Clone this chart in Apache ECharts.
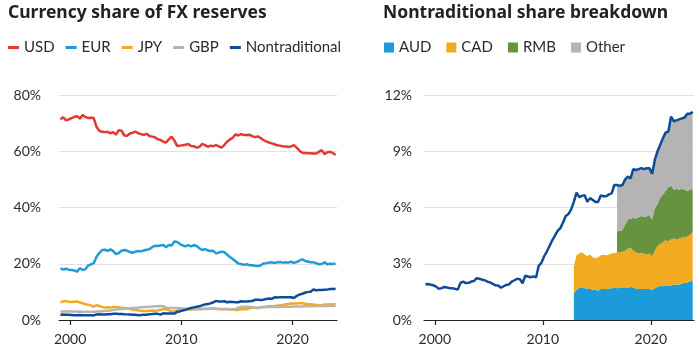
<!DOCTYPE html>
<html>
<head>
<meta charset="utf-8">
<script src="https://cdn.jsdelivr.net/npm/echarts@6/dist/echarts.min.js"></script>
<style>
  html, body { margin: 0; padding: 0; background: #fff; }
  #main { width: 700px; height: 350px; }
</style>
</head>
<body>
<div id="main"></div>
<script>
// quarterly shares, 1999Q1 .. 2023Q4 (percent)
var firstYear = 1999;
var usd = [
    71.4, 72.1, 71.0, 71.3,  71.8, 72.2, 72.5, 71.6,  72.9, 72.2, 71.8, 71.9,
    71.8, 68.7, 67.3, 66.9,  66.8, 66.9, 66.4, 66.8,  65.9, 67.5, 67.3, 65.6,
    65.5, 66.3, 66.6, 67.0,  66.4, 66.1, 65.8, 66.2,  65.4, 65.2, 65.0, 64.3,
    64.0, 63.4, 63.1, 64.2,  65.2, 63.8, 61.9, 62.0,  62.1, 62.3, 62.6, 61.9,
    61.8, 61.3, 61.5, 62.6,  62.2, 61.6, 62.0, 61.8,  62.2, 61.7, 61.3, 62.3,
    63.4, 64.2, 64.8, 66.0,  65.6, 66.1, 65.8, 65.8,  65.9, 65.4, 65.0, 65.3,
    64.7, 64.0, 63.5, 63.1,  62.8, 62.5, 62.1, 62.0,  61.8, 61.7, 61.6, 61.7,
    62.2, 61.3, 60.2, 59.5,  59.4, 59.3, 59.3, 59.2,  59.2, 59.8, 60.4, 59.0,
    59.6, 59.8, 59.4, 58.7
];
var eur = [
    18.4, 17.9, 18.2, 17.9,  17.8, 17.6, 17.2, 18.4,  17.8, 18.0, 19.4, 19.8,
    20.2, 22.5, 23.8, 24.9,  25.0, 24.6, 25.1, 24.5,  23.4, 23.8, 24.6, 24.9,
    24.6, 24.2, 23.9, 24.3,  24.5, 24.4, 24.7, 25.0,  25.2, 25.9, 26.4, 26.3,
    26.5, 26.7, 25.8, 26.7,  26.5, 27.9, 27.7, 27.0,  26.5, 26.2, 26.6, 26.2,
    26.6, 26.3, 25.5, 24.9,  25.2, 24.8, 24.5, 24.6,  23.7, 24.0, 24.3, 24.1,
    23.2, 22.4, 21.7, 20.9,  20.1, 19.9, 19.6, 19.8,  19.5, 19.5, 19.3, 19.2,
    19.4, 20.1, 20.2, 20.4,  20.5, 20.3, 20.5, 20.6,  20.4, 20.5, 20.4, 20.7,
    20.3, 20.6, 21.1, 21.6,  21.0, 20.8, 20.5, 20.5,  20.2, 19.8, 19.9, 20.5,
    19.8, 20.0, 19.9, 20.1
];
var jpy = [
    6.3, 6.6, 6.8, 6.5,  6.4, 6.5, 6.6, 6.2,  6.0, 5.6, 5.4, 5.2,
    4.7, 5.3, 5.0, 4.6,  4.4, 4.5, 4.4, 4.6,  4.6, 4.5, 4.3, 4.3,
    4.1, 4.0, 3.6, 3.6,  3.4, 3.3, 3.2, 3.2,  3.3, 3.4, 3.3, 3.4,
    3.6, 3.8, 3.9, 3.5,  3.0, 3.1, 3.4, 3.6,  3.7, 3.8, 3.8, 3.7,
    3.8, 3.8, 3.9, 3.9,  4.0, 4.1, 4.1, 4.1,  4.0, 3.9, 3.8, 3.8,
    3.9, 3.7, 3.7, 3.6,  3.6, 3.8, 3.9, 3.8,  4.2, 4.4, 4.4, 4.2,
    4.5, 4.6, 4.7, 4.9,  4.9, 5.0, 5.2, 5.2,  5.3, 5.6, 5.7, 5.9,
    5.9, 5.9, 6.0, 6.0,  5.8, 5.6, 5.6, 5.5,  5.3, 5.3, 5.2, 5.5,
    5.5, 5.5, 5.6, 5.7
];
var gbp = [
    3.0, 3.0, 3.1, 3.0,  3.0, 3.0, 2.9, 3.0,  2.9, 2.9, 2.9, 2.9,
    2.9, 3.0, 3.0, 3.1,  3.2, 3.3, 3.4, 3.6,  3.7, 3.8, 3.9, 4.0,
    4.1, 4.2, 4.3, 4.3,  4.4, 4.5, 4.6, 4.6,  4.7, 4.8, 4.9, 4.9,
    5.0, 4.9, 4.4, 4.3,  4.3, 4.3, 4.3, 4.2,  4.1, 4.0, 4.0, 4.0,
    3.9, 3.9, 3.9, 3.9,  3.9, 3.9, 4.0, 4.0,  3.9, 3.9, 3.9, 3.9,
    3.9, 3.8, 3.8, 3.8,  4.4, 4.6, 4.7, 4.7,  4.6, 4.5, 4.4, 4.4,
    4.5, 4.5, 4.6, 4.6,  4.6, 4.6, 4.6, 4.6,  4.7, 4.7, 4.7, 4.7,
    4.8, 4.8, 4.8, 4.8,  4.9, 4.9, 4.9, 4.9,  5.0, 5.0, 5.0, 5.0,
    5.0, 5.1, 5.1, 5.1
];
var nontrad = [
    1.91, 1.92, 1.88, 1.85,  1.78, 1.66, 1.70, 1.76,  1.73, 1.70, 1.70, 1.66,
    1.62, 1.98, 2.05, 1.97,  1.98, 2.05, 2.08, 2.23,  2.20, 2.15, 2.12, 2.05,
    2.00, 1.93, 1.85, 1.84,  1.72, 1.80, 1.87, 1.90,  2.05, 2.12, 2.20, 2.18,
    1.96, 2.36, 2.32, 2.28,  2.33, 2.27, 2.90, 3.05,  3.40, 3.65, 3.95, 4.25,
    4.50, 4.75, 4.90, 5.20,  5.55, 5.65, 5.90, 6.30,  6.80, 6.55, 6.62, 6.65,
    6.30, 6.50, 6.40, 6.30,  6.30, 6.65, 6.60, 6.60,  6.70, 6.75, 7.20, 7.20,
    7.15, 7.20, 7.50, 7.65,  7.55, 8.05, 8.00, 8.05,  8.10, 8.05, 8.10, 8.10,
    7.80, 8.55, 9.00, 9.35,  9.70, 10.00, 10.05, 10.85,  10.60, 10.65, 10.70, 10.75,
    10.80, 11.00, 11.00, 11.10
];

// breakdown, AUD/CAD from 2012Q4, RMB/Other from 2016Q4
var audStart = 55;
var aud = [
    1.43,
    1.60, 1.72, 1.75, 1.70,  1.68, 1.65, 1.62, 1.60,  1.58, 1.65, 1.66, 1.66,
    1.68, 1.70, 1.72, 1.70,  1.72, 1.74, 1.75, 1.74,  1.76, 1.73, 1.68, 1.65,
    1.66, 1.65, 1.66, 1.65,  1.60, 1.70, 1.78, 1.82,  1.80, 1.84, 1.82, 1.86,
    1.88, 1.90, 1.88, 1.95,  1.98, 2.00, 2.05, 2.12
];
var cad = [
    1.43,
    1.85, 1.83, 1.87, 1.80,  1.72, 1.85, 1.73, 1.70,  1.77, 1.80, 1.82, 1.79,
    1.82, 1.85, 1.86, 1.90,  1.88, 1.91, 1.95, 2.06,  2.09, 1.97, 1.92, 1.90,
    1.92, 1.90, 1.84, 1.90,  1.80, 2.00, 2.17, 2.23,  2.35, 2.41, 2.38, 2.44,
    2.47, 2.40, 2.47, 2.45,  2.42, 2.45, 2.50, 2.58
];
var rmbStart = 71;
var rmb = [
    1.13,
    1.15, 1.15, 1.40, 1.56,  1.55, 1.75, 1.80, 1.95,  1.97, 1.95, 2.04, 2.05,
    1.96, 2.28, 2.23, 2.50,  2.55, 2.65, 2.88, 2.87,  2.60, 2.70, 2.60, 2.60,
    2.55, 2.45, 2.40, 2.30
];
var other = [
    2.47,
    2.40, 2.40, 2.40, 2.29,  2.15, 2.60, 2.60, 2.55,  2.55, 2.55, 2.56, 2.50,
    2.44, 2.57, 2.82, 2.80,  3.00, 3.10, 2.97, 3.68,  3.65, 3.65, 3.75, 3.75,
    3.85, 4.10, 4.05, 4.10
];

var yearTicks = [2000, 2010, 2020];

// middle of quarter i, counted from 1999Q1
function qx(i) {
    return firstYear + i / 4 + 0.125;
}
function pairs(arr) {
    return arr.map(function (v, i) { return [qx(i), v]; });
}
// stacked bands: [share, year] so the share column is the one echarts stacks,
// padded from audStart so every band lines up by index
function bandRows(arr, start) {
    var out = [];
    for (var i = audStart; i < start; i++) out.push([null, qx(i)]);
    for (var j = 0; j < arr.length; j++) out.push([arr[j], qx(start + j)]);
    return out;
}

var font = 'Lato, "Noto Sans", sans-serif';
var titleFont = '"Noto Sans", Lato, sans-serif';
var textColor = '#2b2b2b';

function xAxis(idx) {
    return {
        type: 'value',
        gridIndex: idx,
        min: 1999,
        max: 2024,
        splitLine: { show: false },
        axisLine: { lineStyle: { color: '#222', width: 1.2 } },
        axisTick: { show: true, customValues: yearTicks, length: 5, lineStyle: { color: '#222', width: 1.2 } },
        axisLabel: {
            customValues: yearTicks, margin: 12,
            color: textColor, fontFamily: font, fontSize: 14,
            formatter: function (v) { return String(v); }
        }
    };
}
function yAxis(idx, max, step, margin) {
    return {
        type: 'value',
        gridIndex: idx,
        min: 0,
        max: max,
        interval: step,
        axisLine: { show: false },
        axisTick: { show: false },
        splitLine: { lineStyle: { color: '#e2e2e2', width: 1 } },
        axisLabel: {
            margin: margin, color: textColor, fontFamily: font, fontSize: 14,
            formatter: '{value}%'
        }
    };
}

function lineSeries(name, arr, color, axis) {
    return {
        name: name,
        type: 'line',
        xAxisIndex: axis,
        yAxisIndex: axis,
        data: pairs(arr),
        showSymbol: false,
        lineStyle: { color: color, width: 2.5 },
        itemStyle: { color: color }
    };
}
function areaSeries(name, arr, start, color) {
    return {
        name: name,
        type: 'line',
        xAxisIndex: 1,
        yAxisIndex: 1,
        stack: 'nt',
        encode: { x: 1, y: 0 },
        data: bandRows(arr, start),
        showSymbol: false,
        lineStyle: { width: 0 },
        itemStyle: { color: color },
        areaStyle: { color: color, opacity: 1 }
    };
}

var titleStyle = { fontFamily: titleFont, fontWeight: 'bold', fontSize: 17.5, color: '#222' };

var chart = echarts.init(document.getElementById('main'));
chart.setOption({
    animation: false,
    title: [
        { text: 'Currency share of FX reserves', left: 8, top: 4, padding: 0, textStyle: titleStyle },
        { text: 'Nontraditional share breakdown', left: 383, top: 4, padding: 0, textStyle: titleStyle }
    ],
    legend: [
        {
            left: 8, top: 40, padding: 0, icon: 'rect', itemWidth: 11, itemHeight: 3, itemGap: 11,
            textStyle: { fontFamily: font, fontSize: 15, color: textColor },
            data: ['USD', 'EUR', 'JPY', 'GBP', 'Nontraditional']
        },
        {
            left: 384, top: 40, padding: 0, icon: 'rect', itemWidth: 10, itemHeight: 10, itemGap: 15,
            textStyle: { fontFamily: font, fontSize: 15, color: textColor },
            data: ['AUD', 'CAD', 'RMB', 'Other']
        }
    ],
    grid: [
        { left: 59, top: 95, width: 278, height: 225 },
        { left: 424, top: 95, width: 270, height: 225 }
    ],
    xAxis: [xAxis(0), xAxis(1)],
    yAxis: [yAxis(0, 80, 20, 18), yAxis(1, 12, 3, 12)],
    series: [
        lineSeries('USD', usd, '#e03a33', 0),
        lineSeries('EUR', eur, '#1f9bd7', 0),
        lineSeries('JPY', jpy, '#f2aa22', 0),
        lineSeries('GBP', gbp, '#b5b5b5', 0),
        lineSeries('Nontraditional', nontrad, '#0f4c97', 0),
        areaSeries('AUD', aud, audStart, '#1b9bd7'),
        areaSeries('CAD', cad, audStart, '#f4aa1e'),
        areaSeries('RMB', rmb, rmbStart, '#679340'),
        areaSeries('Other', other, rmbStart, '#b3b4b3'),
        lineSeries('Nontraditional total', nontrad, '#0f4c97', 1)
    ]
});
</script>
</body>
</html>
